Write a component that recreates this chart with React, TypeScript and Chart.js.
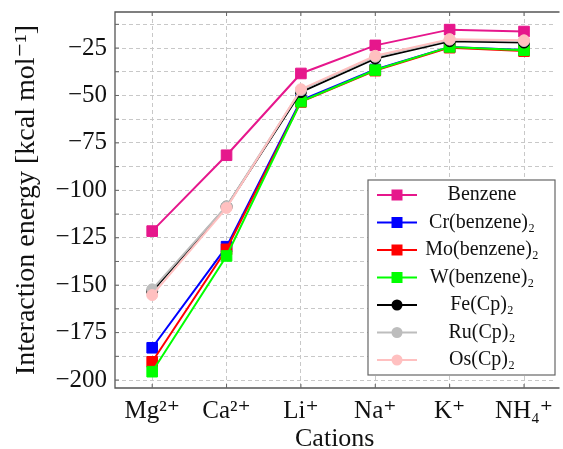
import React, { useEffect, useRef } from 'react';
import { Chart, registerables } from 'chart.js';

Chart.register(...registerables);

// ---- data ----
const cations = ['Mg²⁺', 'Ca²⁺', 'Li⁺', 'Na⁺', 'K⁺', 'NH₄⁺'];
const seriesNames = ['Benzene', 'Cr(benzene)₂', 'Mo(benzene)₂', 'W(benzene)₂', 'Fe(Cp)₂', 'Ru(Cp)₂', 'Os(Cp)₂'];
const benzene = [-121.5, -81.5, -38.4, -23.6, -15.3, -16.3];
const crBenzene2 = [-183.0, -129.7, -52.6, -36.3, -24.5, -26.0];
const moBenzene2 = [-190.4, -131.1, -53.4, -36.9, -24.8, -26.6];
const wBenzene2 = [-195.6, -134.6, -53.2, -36.6, -24.4, -26.1];
const feCp2 = [-153.2, -108.6, -48.2, -30.5, -21.4, -22.1];
const ruCp2 = [-152.2, -108.4, -47.2, -29.6, -20.6, -21.3];
const osCp2 = [-155.2, -109.3, -46.7, -29.1, -20.3, -20.9];
const yTickLabels = [-200, -175, -150, -125, -100, -75, -50, -25];

const seriesValues = [benzene, crBenzene2, moBenzene2, wBenzene2, feCp2, ruCp2, osCp2];
const seriesColors = ['#E6178C', '#0000FF', '#FF0000', '#00FF00', '#000000', '#BDBDBD', '#FFC0C0'];
const seriesMarkers = ['rect', 'rect', 'rect', 'rect', 'circle', 'circle', 'circle'];

const FONT = '"Liberation Serif", "DejaVu Serif", serif';

const framePlugin = {
  id: 'frame',
  afterDatasetsDraw(chart: any) {
    const { ctx, chartArea } = chart;
    const { left, right, top, bottom } = chartArea;
    ctx.save();
    ctx.strokeStyle = '#555555';
    ctx.lineWidth = 1.3;
    ctx.beginPath();
    ctx.moveTo(right + 5, top);
    ctx.lineTo(left, top);
    ctx.lineTo(left, bottom);
    ctx.lineTo(right + 5, bottom);
    ctx.stroke();
    // inner tick marks
    ctx.lineWidth = 1;
    ctx.strokeStyle = '#666666';
    const ys = chart.scales.y;
    ys.ticks.forEach((t: any) => {
      const py = ys.getPixelForValue(t.value);
      ctx.beginPath();
      ctx.moveTo(left, py);
      ctx.lineTo(left + 4, py);
      ctx.stroke();
    });
    const xs = chart.scales.x;
    xs.ticks.forEach((t: any) => {
      const px = xs.getPixelForValue(t.value);
      ctx.beginPath();
      ctx.moveTo(px, bottom);
      ctx.lineTo(px, bottom - 4);
      ctx.moveTo(px, top);
      ctx.lineTo(px, top + 4);
      ctx.stroke();
    });
    ctx.restore();
  },
};

const legendPlugin = {
  id: 'innerLegend',
  afterDraw(chart: any) {
    const { ctx } = chart;
    const bx = 368, by = 180, bw = 187, bh = 195;
    ctx.save();
    ctx.fillStyle = '#ffffff';
    ctx.fillRect(bx, by, bw, bh);
    ctx.strokeStyle = '#666666';
    ctx.lineWidth = 1.2;
    ctx.strokeRect(bx, by, bw, bh);
    chart.data.datasets.forEach((ds: any, i: number) => {
      const y = by + 15 + i * 27.5;
      ctx.strokeStyle = ds.borderColor;
      ctx.fillStyle = ds.backgroundColor;
      ctx.lineWidth = 2;
      ctx.beginPath();
      ctx.moveTo(bx + 9, y);
      ctx.lineTo(bx + 49, y);
      ctx.stroke();
      if (ds.pointStyle === 'rect') {
        ctx.fillRect(bx + 29 - 5.5, y - 5.5, 11, 11);
      } else {
        ctx.beginPath();
        ctx.arc(bx + 29, y, 5.5, 0, Math.PI * 2);
        ctx.fill();
      }
      ctx.fillStyle = '#111111';
      ctx.font = `20px ${FONT}`;
      ctx.textAlign = 'center';
      ctx.textBaseline = 'middle';
      ctx.fillText(ds.label, bx + 114, y);
    });
    ctx.restore();
  },
};

export default function App() {
  const canvasRef = useRef<HTMLCanvasElement | null>(null);

  useEffect(() => {
    const canvas = canvasRef.current;
    if (!canvas) return;
    const datasets = seriesNames.map((name, i) => ({
      label: name,
      data: seriesValues[i].map((v, k) => ({ x: k, y: v })),
      borderColor: seriesColors[i],
      backgroundColor: seriesColors[i],
      pointBackgroundColor: seriesColors[i],
      pointBorderColor: seriesColors[i],
      pointStyle: seriesMarkers[i],
      pointRadius: seriesMarkers[i] === 'rect' ? 7.5 : 5.5,
      pointBorderWidth: 1,
      borderWidth: 2,
      tension: 0,
      order: seriesNames.length - i,
    }));

    const chart = new Chart(canvas, {
      type: 'line',
      data: { datasets },
      options: {
        responsive: false,
        animation: false,
        devicePixelRatio: 1,
        layout: { padding: { top: 12, left: 0, right: 0, bottom: 0 } },
        plugins: {
          legend: { display: false },
          tooltip: { enabled: false },
        },
        scales: {
          x: {
            type: 'linear',
            min: -0.5,
            max: 5.41,
            afterBuildTicks: (scale: any) => {
              scale.ticks = cations.map((_, k) => ({ value: k }));
            },
            afterFit: (scale: any) => {
              scale.height = 61;
              scale.paddingLeft = 0;
              scale.paddingRight = 0;
            },
            ticks: {
              autoSkip: false,
              maxRotation: 0,
              color: '#111111',
              padding: 8,
              font: { family: FONT, size: 25 },
              callback: (v: any) => cations[Math.round(Number(v))] ?? '',
            },
            grid: { color: '#c8c8c8', lineWidth: 1, drawTicks: false },
            border: { display: false, dash: [4, 3] },
            title: {
              display: true,
              text: 'Cations',
              color: '#111111',
              font: { family: FONT, size: 26, lineHeight: 0.72 },
              padding: { top: 0, bottom: 0 },
            },
          },
          y: {
            type: 'linear',
            min: -204.2,
            max: -6,
            afterBuildTicks: (scale: any) => {
              const t: any[] = [];
              yTickLabels.forEach((v) => {
                t.push({ value: v });
                t.push({ value: v + 12.5 });
              });
              scale.ticks = t;
            },
            afterFit: (scale: any) => {
              scale.width = 115;
              scale.paddingTop = 0;
              scale.paddingBottom = 0;
            },
            ticks: {
              autoSkip: false,
              color: '#111111',
              padding: 8,
              font: { family: FONT, size: 25 },
              callback: (v: any) => (yTickLabels.includes(Number(v)) ? '−' + Math.abs(Number(v)) : ''),
            },
            grid: { color: '#c8c8c8', lineWidth: 1, drawTicks: false },
            border: { display: false, dash: [4, 3] },
            title: {
              display: true,
              text: 'Interaction energy [kcal mol⁻¹]',
              color: '#111111',
              font: { family: FONT, size: 28 },
              padding: { top: 10, bottom: 0 },
            },
          },
        },
      },
      plugins: [framePlugin, legendPlugin],
    });

    return () => chart.destroy();
  }, []);

  return (
    <div style={{ position: 'absolute', left: 0, top: 0, width: 563, height: 449, background: '#ffffff' }}>
      <canvas ref={canvasRef} width={563} height={449} style={{ display: 'block', width: 563, height: 449 }} />
    </div>
  );
}
